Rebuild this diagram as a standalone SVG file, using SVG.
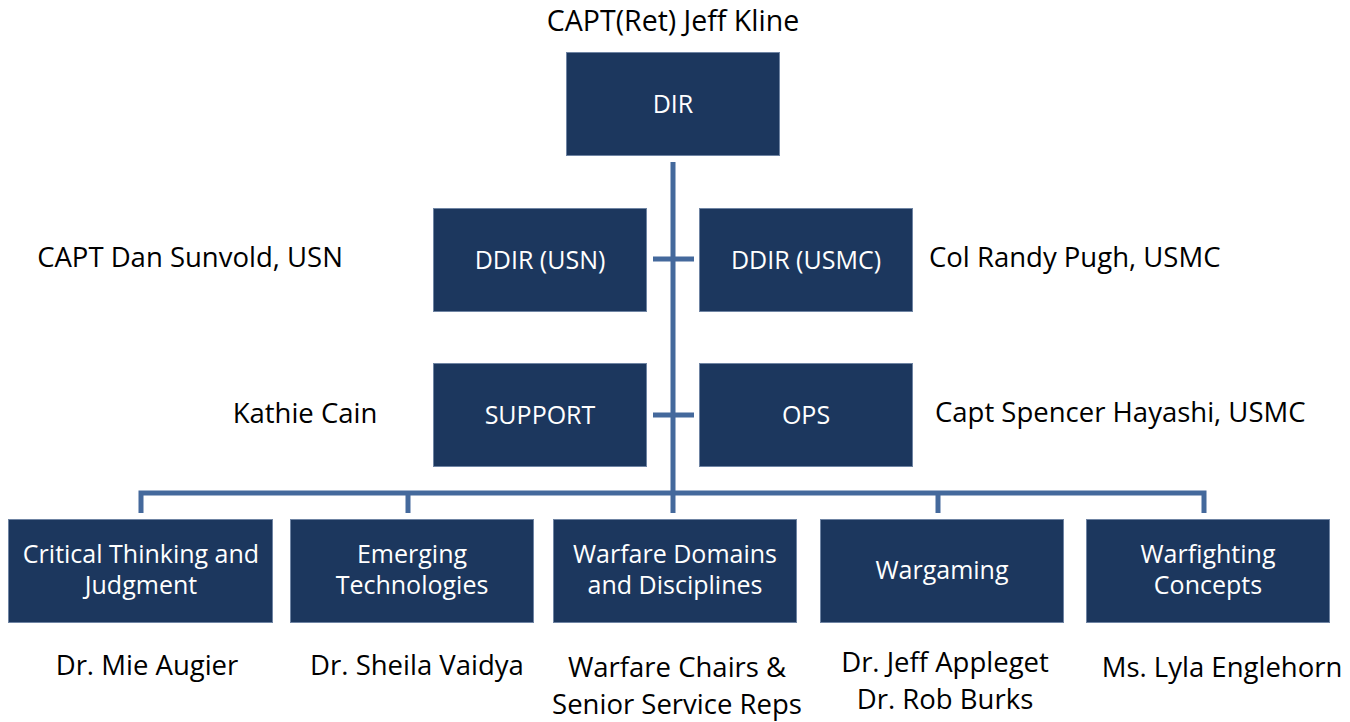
<svg xmlns="http://www.w3.org/2000/svg" width="1350" height="722" viewBox="0 0 1350 722">
<style>
.box{fill:#1c375e;stroke:#6f84a3;stroke-width:1}
.bt{font-family:"Open Sans","Liberation Sans",sans-serif;font-size:25px;fill:#ffffff;text-anchor:middle}
.lb{font-family:"Open Sans","Liberation Sans",sans-serif;font-size:27.5px;fill:#000000}
.c{text-anchor:middle}
.ln{stroke:#44699c;stroke-width:5;fill:none}
</style>
<rect width="1350" height="722" fill="#ffffff"/>
<g id="connectors">
<line class="ln" x1="673" y1="162" x2="673" y2="495"/>
<line class="ln" x1="653" y1="259" x2="694" y2="259"/>
<line class="ln" x1="653" y1="415" x2="694" y2="415"/>
<polyline class="ln" points="141,513 141,493 1204,493 1204,513"/>
<line class="ln" x1="408" y1="493" x2="408" y2="513"/>
<line class="ln" x1="673" y1="493" x2="673" y2="513"/>
<line class="ln" x1="938" y1="493" x2="938" y2="513"/>
</g>
<text class="lb c" x="673" y="31" style="font-size:28.5px">CAPT(Ret) Jeff Kline</text>
<g id="dir">
<rect class="box" x="566.5" y="52.5" width="213" height="103"/>
<text class="bt" x="673" y="113">DIR</text>
</g>
<g id="ddir-usn">
<rect class="box" x="433.5" y="208.5" width="213" height="103"/>
<text class="bt" x="540" y="269">DDIR (USN)</text>
<text class="lb c" x="190" y="267">CAPT Dan Sunvold, USN</text>
</g>
<g id="ddir-usmc">
<rect class="box" x="699.5" y="208.5" width="213" height="103"/>
<text class="bt" x="806" y="269">DDIR (USMC)</text>
<text class="lb" x="929" y="267">Col Randy Pugh, USMC</text>
</g>
<g id="support">
<rect class="box" x="433.5" y="363.5" width="213" height="103"/>
<text class="bt" x="540" y="424">SUPPORT</text>
<text class="lb c" x="305" y="423">Kathie Cain</text>
</g>
<g id="ops">
<rect class="box" x="699.5" y="363.5" width="213" height="103"/>
<text class="bt" x="806" y="424">OPS</text>
<text class="lb" x="935" y="422">Capt Spencer Hayashi, USMC</text>
</g>
<g id="critical-thinking">
<rect class="box" x="8.5" y="519.5" width="264" height="103"/>
<text class="bt" x="141" y="563">Critical Thinking and</text>
<text class="bt" x="141" y="594">Judgment</text>
<text class="lb c" x="147" y="675">Dr. Mie Augier</text>
</g>
<g id="emerging-tech">
<rect class="box" x="290.5" y="519.5" width="243" height="103"/>
<text class="bt" x="412" y="563">Emerging</text>
<text class="bt" x="412" y="594">Technologies</text>
<text class="lb c" x="417" y="675">Dr. Sheila Vaidya</text>
</g>
<g id="warfare-domains">
<rect class="box" x="553.5" y="519.5" width="243" height="103"/>
<text class="bt" x="675" y="563">Warfare Domains</text>
<text class="bt" x="675" y="594">and Disciplines</text>
<text class="lb c" x="677" y="677">Warfare Chairs &amp;</text>
<text class="lb c" x="677" y="714">Senior Service Reps</text>
</g>
<g id="wargaming">
<rect class="box" x="820.5" y="519.5" width="243" height="103"/>
<text class="bt" x="942" y="579">Wargaming</text>
<text class="lb c" x="945" y="672">Dr. Jeff Appleget</text>
<text class="lb c" x="945" y="709">Dr. Rob Burks</text>
</g>
<g id="warfighting-concepts">
<rect class="box" x="1086.5" y="519.5" width="243" height="103"/>
<text class="bt" x="1208" y="563">Warfighting</text>
<text class="bt" x="1208" y="594">Concepts</text>
<text class="lb c" x="1222" y="677">Ms. Lyla Englehorn</text>
</g>
</svg>
